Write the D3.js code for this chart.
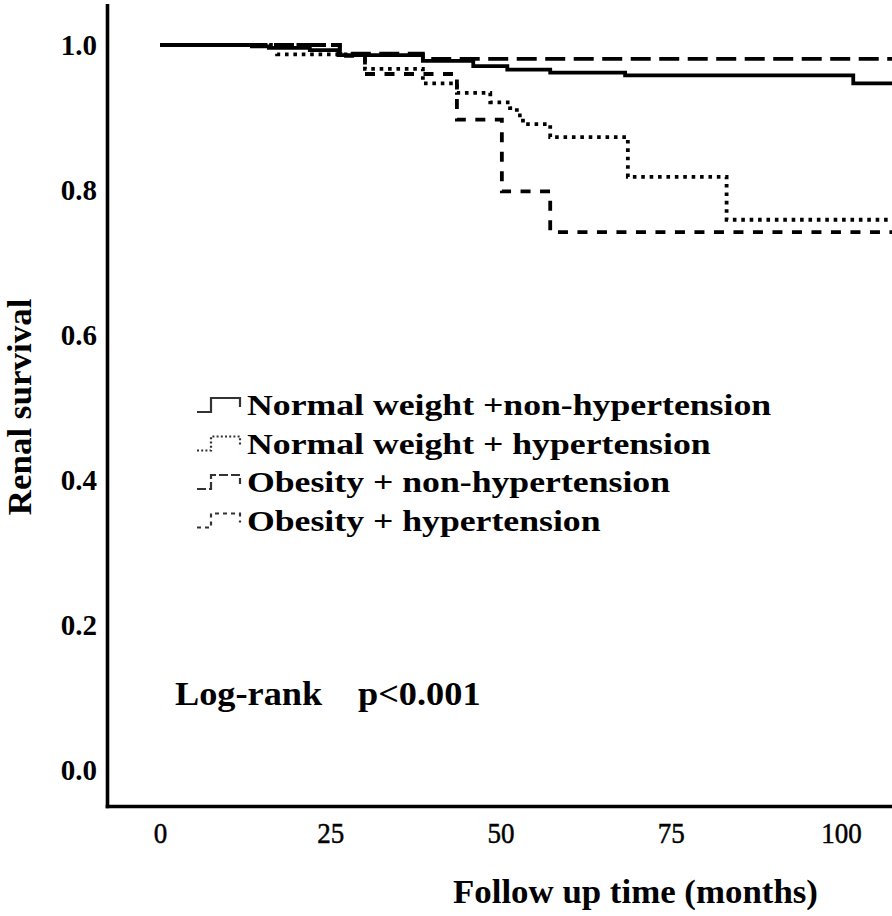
<!DOCTYPE html>
<html>
<head>
<meta charset="utf-8">
<script src="https://cdn.jsdelivr.net/npm/d3@7"></script>
<style>
  html, body { margin: 0; padding: 0; background: #fff; }
  svg { display: block; }
  text { font-family: "Liberation Serif", "Times New Roman", serif; fill: #000; }
</style>
</head>
<body>
<div id="chart"></div>
<script>
// ---------- data ----------
const categories = [
  "Normal weight +non-hypertension",
  "Normal weight + hypertension",
  "Obesity + non-hypertension",
  "Obesity + hypertension"
];
// event times (months) and survival after each step
const timesNwNonHtn = [0, 13.5, 16, 22, 26.2, 38.6, 46, 51, 57.3, 68.3, 101.8];
const survNwNonHtn  = [1.0, 0.998, 0.996, 0.993, 0.986, 0.978, 0.971, 0.966, 0.962, 0.958, 0.947];

const timesNwHtn = [0, 17.2, 30.1, 38.6, 43.6, 48.5, 51.4, 52.4, 53.3, 57.3, 68.7, 83.2];
const survNwHtn  = [1.0, 0.987, 0.967, 0.947, 0.934, 0.921, 0.913, 0.903, 0.891, 0.873, 0.818, 0.759];

const timesObNonHtn = [0, 26.4, 38.6];
const survObNonHtn  = [1.0, 0.988, 0.981];

const timesObHtn = [0, 26.4, 30.1, 43.6, 50.2, 57.3];
const survObHtn  = [1.0, 0.985, 0.960, 0.897, 0.798, 0.742];

const endTime = 108;
const xTicks = [0, 25, 50, 75, 100];
const yTicks = [0.0, 0.2, 0.4, 0.6, 0.8, 1.0];
const xTitle = "Follow up time (months)";
const yTitle = "Renal survival";
const testLabel = "Log-rank";
const pLabel = "p<0.001";

// ---------- layout ----------
const W = 892, H = 916;
const FONT = '"Liberation Serif", "Times New Roman", serif';
const svg = d3.select("#chart").append("svg").attr("width", W).attr("height", H);

const x = d3.scaleLinear().domain([0, 100]).range([160, 841]);
const y = d3.scaleLinear().domain([0, 1]).range([770, 45]);

const axisX0 = 107.5, axisY0 = 806.5;

const seriesList = [
  { name: categories[0], t: timesNwNonHtn, s: survNwNonHtn },
  { name: categories[1], t: timesNwHtn,    s: survNwHtn },
  { name: categories[2], t: timesObNonHtn, s: survObNonHtn },
  { name: categories[3], t: timesObHtn,    s: survObHtn }
];
const dashes = [null, "3.6,4.8", "20,8.5", "10,9.5"];
const legendDashes = [null, "2,2.2", "9,3", "4,4"];

// clip
svg.append("defs").append("clipPath").attr("id", "plotclip")
  .append("rect").attr("x", axisX0 + 2).attr("y", 0).attr("width", W).attr("height", axisY0 - 2);

const line = d3.line().x(d => x(d[0])).y(d => y(d[1])).curve(d3.curveStepAfter);

const plot = svg.append("g").attr("clip-path", "url(#plotclip)");
// draw in order so solid lines sit on top
[2, 3, 1, 0].forEach(i => {
  const sr = seriesList[i];
  const pts = sr.t.map((t, k) => [t, sr.s[k]]);
  pts.push([endTime, sr.s[sr.s.length - 1]]);
  plot.append("path")
    .datum(pts)
    .attr("d", line)
    .attr("fill", "none")
    .attr("stroke", "#000")
    .attr("stroke-width", 3.8)
    .attr("stroke-dasharray", dashes[i]);
});

// ---------- axes ----------
const yAxis = d3.axisLeft(y).tickValues(yTicks).tickSize(0).tickPadding(10.5).tickFormat(d3.format(".1f"));
const gy = svg.append("g").attr("transform", `translate(${axisX0},0)`).call(yAxis);
gy.select(".domain").remove();
gy.selectAll("text")
  .style("font-family", FONT).style("font-size", "29px").style("font-weight", "bold")
  .attr("dy", "0.34em").attr("fill", "#000");

const xAxis = d3.axisBottom(x).tickValues(xTicks).tickSize(0).tickPadding(15.5).tickFormat(d3.format("d"));
const gx = svg.append("g").attr("transform", `translate(0,${axisY0})`).call(xAxis);
gx.select(".domain").remove();
gx.selectAll("text")
  .style("font-family", FONT).style("font-size", "30px").style("font-weight", "normal")
  .style("stroke", "#000").style("stroke-width", "0.5px")
  .attr("fill", "#000");

// axis lines
svg.append("line").attr("x1", axisX0).attr("x2", axisX0).attr("y1", 4).attr("y2", axisY0 + 1.8)
  .attr("stroke", "#000").attr("stroke-width", 3.6);
svg.append("line").attr("x1", axisX0 - 1.8).attr("x2", W).attr("y1", axisY0).attr("y2", axisY0)
  .attr("stroke", "#000").attr("stroke-width", 3.6);

// helper: stretch text horizontally
function stretch(sel, k) {
  sel.each(function () {
    const len = this.getComputedTextLength();
    d3.select(this).attr("textLength", len * k).attr("lengthAdjust", "spacingAndGlyphs");
  });
}
stretch(gx.selectAll("text"), 0.9);

// axis titles
const xt = svg.append("text").attr("x", 453).attr("y", 903)
  .style("font-size", "33px").style("font-weight", "bold").text(xTitle);
stretch(xt, 1.056);

const yt = svg.append("text").attr("transform", "translate(31,407) rotate(-90)")
  .attr("text-anchor", "middle")
  .style("font-size", "33px").style("font-weight", "bold").text(yTitle);
stretch(yt, 1.06);

// log-rank annotation
const lr1 = svg.append("text").attr("x", 175).attr("y", 705)
  .style("font-size", "33px").style("font-weight", "bold").text(testLabel);
stretch(lr1, 1.1);
const lr2 = svg.append("text").attr("x", 358).attr("y", 705)
  .style("font-size", "33px").style("font-weight", "bold").text(pLabel);
stretch(lr2, 1.1);

// ---------- legend ----------
const legend = svg.append("g");
const rowH = 38.5, base0 = 415;
seriesList.forEach((sr, i) => {
  const b = base0 + i * rowH;
  const g = legend.append("g");
  const lowY = b - 3, topY = b - 17;
  const sym = d3.path();
  sym.moveTo(197, lowY); sym.lineTo(211, lowY); sym.lineTo(211, topY);
  sym.lineTo(240, topY); sym.lineTo(240, topY + 9);
  g.append("path").attr("d", sym.toString())
    .attr("fill", "none").attr("stroke", "#333").attr("stroke-width", 2.2)
    .attr("stroke-dasharray", legendDashes[i]);
  const t = g.append("text").attr("x", 247).attr("y", b)
    .style("font-size", "30px").style("font-weight", "bold").text(sr.name);
  stretch(t, 1.19);
});
</script>
</body>
</html>
